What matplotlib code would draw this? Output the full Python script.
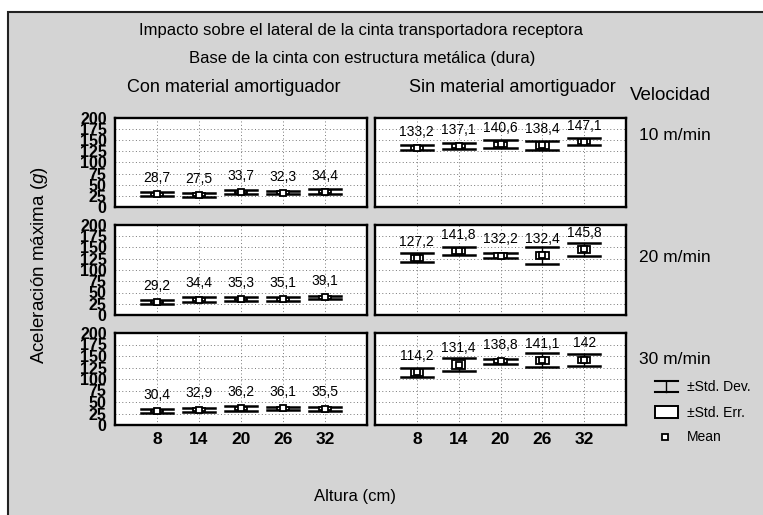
import numpy as np
import matplotlib
matplotlib.use('Agg')
import matplotlib.pyplot as plt
from matplotlib.patches import Rectangle

plt.rcParams['font.family'] = ['Liberation Sans', 'DejaVu Sans']
plt.rcParams['mathtext.fontset'] = 'custom'
plt.rcParams['mathtext.it'] = 'Liberation Sans:italic'

# alturas (cm)
alturas = [8, 14, 20, 26, 32]
velocidades = ['10 m/min', '20 m/min', '30 m/min']

# con material amortiguador: media, desv. tipica, error tipico
con_media = [[28.7, 27.5, 33.7, 32.3, 34.4],
             [29.2, 34.4, 35.3, 35.1, 39.1],
             [30.4, 32.9, 36.2, 36.1, 35.5]]
con_sd = [[4, 4, 5, 4, 5],
          [5, 5, 4, 5, 4],
          [4, 5, 5, 4, 4]]
con_se = [[3, 3, 3, 3, 3],
          [3, 3, 3, 3, 3],
          [3, 3, 3, 3, 3]]

# sin material amortiguador
sin_media = [[133.2, 137.1, 140.6, 138.4, 147.1],
             [127.2, 141.8, 132.2, 132.4, 145.8],
             [114.2, 131.4, 138.8, 141.1, 142.0]]
sin_sd = [[5.5, 7, 9, 10.5, 8],
          [10, 9, 5.5, 18.5, 15],
          [9.5, 15, 5.5, 15, 13]]
sin_se = [[4.5, 4.5, 6, 7.5, 5.5],
          [6.5, 6.5, 5, 7.5, 7.5],
          [7.5, 9, 4.5, 7.5, 6.5]]

yticks = [0, 25, 50, 75, 100, 125, 150, 175, 200]

W, H = 763, 515
GREY = '#d4d4d4'


def px_axes(fig, x0, y0, x1, y1):
    return fig.add_axes([x0 / W, 1 - y1 / H, (x1 - x0) / W, (y1 - y0) / H])


def fmt(v):
    return ('%g' % v).replace('.', ',')


def draw_panel(ax, media, sd, se, show_y, show_x):
    ax.set_xlim(2, 38)
    ax.set_ylim(0, 200)
    ax.set_facecolor('white')
    for s in ax.spines.values():
        s.set_linewidth(1.7)
    ax.set_xticks(alturas)
    ax.set_yticks(yticks)
    ax.grid(True, color='#777777', linestyle=(0, (1, 2.5)), linewidth=0.7)
    ax.tick_params(length=0)
    if show_y:
        ax.set_yticklabels([str(t) for t in yticks], fontsize=11.5, fontweight='bold')
        ax.tick_params(axis='y', pad=6)
    else:
        ax.set_yticklabels([])
    if show_x:
        ax.set_xticklabels([str(a) for a in alturas], fontsize=12.5, fontweight='bold')
        ax.tick_params(axis='x', pad=5)
    else:
        ax.set_xticklabels([])
    for x, m, d, e in zip(alturas, media, sd, se):
        ax.plot([x, x], [m - d, m + d], color='black', lw=1, zorder=3)
        ax.plot([x - 2.3, x + 2.3], [m + d, m + d], color='black', lw=1.8, zorder=3)
        ax.plot([x - 2.3, x + 2.3], [m - d, m - d], color='black', lw=1.8, zorder=3)
        ax.add_patch(Rectangle((x - 0.9, m - e), 1.8, 2 * e, facecolor='white',
                               edgecolor='black', lw=1.3, zorder=4))
        ax.plot([x], [m], marker='s', ms=5, mfc='white', mec='black', mew=1.3, zorder=5)
        ax.text(x, m + 27, fmt(m), ha='center', va='baseline', fontsize=10, zorder=6)


fig = plt.figure(figsize=(W / 100, H / 100), dpi=100)
fig.patch.set_facecolor('white')

# overlay in pixel coordinates for background, texts and legend
ov = fig.add_axes([0, 0, 1, 1], zorder=-1)
ov.set_xlim(0, W)
ov.set_ylim(H, 0)
ov.axis('off')
ov.add_patch(Rectangle((8, 12), W, H, facecolor=GREY, edgecolor='#222222', lw=1.5))

rows = [(118, 207), (225, 315), (333, 425)]
cols = [(115, 367), (375, 626)]

for i, (y0, y1) in enumerate(rows):
    ax = px_axes(fig, cols[0][0], y0, cols[0][1], y1)
    draw_panel(ax, con_media[i], con_sd[i], con_se[i], True, i == 2)
    ax = px_axes(fig, cols[1][0], y0, cols[1][1], y1)
    draw_panel(ax, sin_media[i], sin_sd[i], sin_se[i], False, i == 2)

lg = fig.add_axes([0, 0, 1, 1], zorder=10)
lg.set_xlim(0, W)
lg.set_ylim(H, 0)
lg.axis('off')

lg.text(361, 31, 'Impacto sobre el lateral de la cinta transportadora receptora',
        ha='center', va='center', fontsize=12)
lg.text(362, 59, 'Base de la cinta con estructura metálica (dura)',
        ha='center', va='center', fontsize=12)
lg.text(234, 88, 'Con material amortiguador', ha='center', va='center', fontsize=13)
lg.text(512, 88, 'Sin material amortiguador', ha='center', va='center', fontsize=13)
lg.text(670, 95, 'Velocidad', ha='center', va='center', fontsize=13.5)

for v, yc in zip(velocidades, [136, 257, 359]):
    lg.text(639, yc, v, ha='left', va='center', fontsize=12.5)

lg.text(40, 265, r'Aceleración máxima ($\mathit{g}$)', rotation=90,
        ha='center', va='center', fontsize=13.5)
lg.text(355, 497, 'Altura (cm)', ha='center', va='center', fontsize=12)

# legend
lg.plot([655, 678], [381, 381], color='black', lw=1.5)
lg.plot([655, 678], [392, 392], color='black', lw=1.5)
lg.plot([666, 666], [381, 392], color='black', lw=1)
lg.text(687, 387, '±Std. Dev.', ha='left', va='center', fontsize=10)
lg.add_patch(Rectangle((655, 406), 23, 12, facecolor='white', edgecolor='black', lw=1.4))
lg.text(687, 413, '±Std. Err.', ha='left', va='center', fontsize=10)
lg.plot([665], [437], marker='s', ms=5, mfc='white', mec='black', mew=1.3)
lg.text(687, 437, 'Mean', ha='left', va='center', fontsize=10)

fig.savefig('out.png', dpi=100, facecolor=fig.get_facecolor())
